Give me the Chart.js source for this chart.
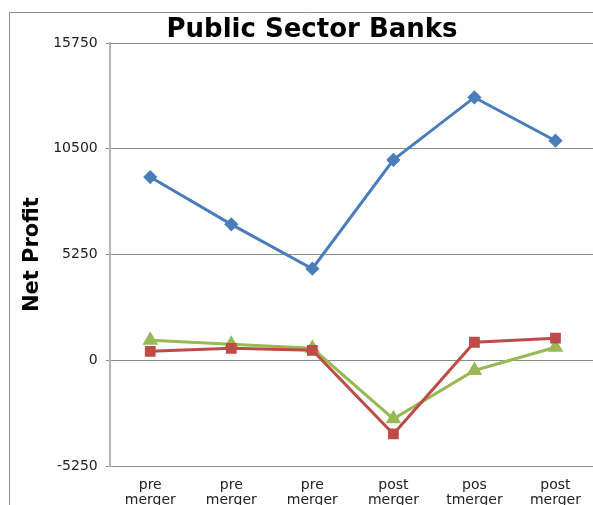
<!DOCTYPE html>
<html>
<head>
<meta charset="utf-8">
<script src="https://cdn.jsdelivr.net/npm/chart.js@4/dist/chart.umd.min.js"></script>
<style>
  html, body { margin: 0; padding: 0; background: #fff; overflow: hidden; }
  #wrap { width: 593px; height: 505px; overflow: hidden; position: relative; }
</style>
</head>
<body>
<div id="wrap"><canvas id="bankChart" width="605" height="522"></canvas></div>
<script>
const categories = [['pre', 'merger'], ['pre', 'merger'], ['pre', 'merger'], ['post', 'merger'], ['pos', 'tmerger'], ['post', 'merger']];
const seriesBlue = [9100, 6750, 4550, 9950, 13050, 10900];
const seriesRed = [450, 600, 500, -3650, 900, 1100];
const seriesGreen = [1000, 800, 600, -2900, -500, 650];
const yTicks = [-5250, 0, 5250, 10500, 15750];

// white background, outer frame and the title
const framePlugin = {
    id: 'frame',
    beforeDraw(chart) {
        const ctx = chart.ctx;
        ctx.save();
        ctx.fillStyle = '#fff';
        ctx.fillRect(0, 0, chart.width, chart.height);
        ctx.strokeStyle = '#8c8c8c';
        ctx.lineWidth = 1;
        ctx.beginPath();
        ctx.moveTo(9.5, chart.height);
        ctx.lineTo(9.5, 12.5);
        ctx.lineTo(chart.width, 12.5);
        ctx.stroke();
        ctx.restore();
    },
    afterDraw(chart) {
        const ctx = chart.ctx;
        ctx.save();
        ctx.fillStyle = '#000';
        ctx.font = 'bold 26px "DejaVu Sans"';
        ctx.textAlign = 'center';
        ctx.textBaseline = 'alphabetic';
        ctx.fillText('Public Sector Banks', 312, 37);
        ctx.restore();
    }
};

const ctx = document.getElementById('bankChart').getContext('2d');
new Chart(ctx, {
    type: 'line',
    data: {
        labels: categories,
        datasets: [{
            data: seriesBlue,
            borderColor: '#4a7ebb',
            backgroundColor: '#4a7ebb',
            borderWidth: 3,
            pointStyle: 'rectRot',
            pointRadius: 5,
            tension: 0
        }, {
            data: seriesRed,
            borderColor: '#be4b48',
            backgroundColor: '#be4b48',
            borderWidth: 3,
            pointStyle: 'rect',
            pointRadius: 5.5,
            tension: 0
        }, {
            data: seriesGreen,
            borderColor: '#98b954',
            backgroundColor: '#98b954',
            borderWidth: 3,
            pointStyle: 'triangle',
            pointRadius: 6,
            tension: 0
        }]
    },
    options: {
        responsive: false,
        animation: false,
        devicePixelRatio: 1,
        layout: { padding: { left: 10, top: 43, right: 4, bottom: 3 } },
        plugins: {
            legend: { display: false },
            title: { display: false },
            tooltip: { enabled: false }
        },
        scales: {
            x: {
                offset: true,
                grid: { display: false, drawTicks: false },
                border: { display: true, color: '#8c8c8c' },
                ticks: {
                    color: '#222',
                    padding: 11,
                    maxRotation: 0,
                    autoSkip: false,
                    font: { family: 'DejaVu Sans', size: 14, lineHeight: 1.1 }
                }
            },
            y: {
                min: -5250,
                max: 15750,
                afterBuildTicks(scale) {
                    scale.ticks = yTicks.map(v => ({ value: v }));
                },
                grid: { color: '#8c8c8c', tickLength: 4, lineWidth: 1 },
                border: { display: true, color: '#b4b4b4', width: 2 },
                ticks: {
                    color: '#222',
                    padding: 8,
                    font: { family: 'DejaVu Sans', size: 14 },
                    callback: v => String(v)
                },
                title: {
                    display: true,
                    text: 'Net Profit',
                    color: '#000',
                    padding: { top: 10, bottom: 0 },
                    font: { family: 'DejaVu Sans', size: 21, weight: 'bold' }
                }
            }
        }
    },
    plugins: [framePlugin]
});
</script>
</body>
</html>
